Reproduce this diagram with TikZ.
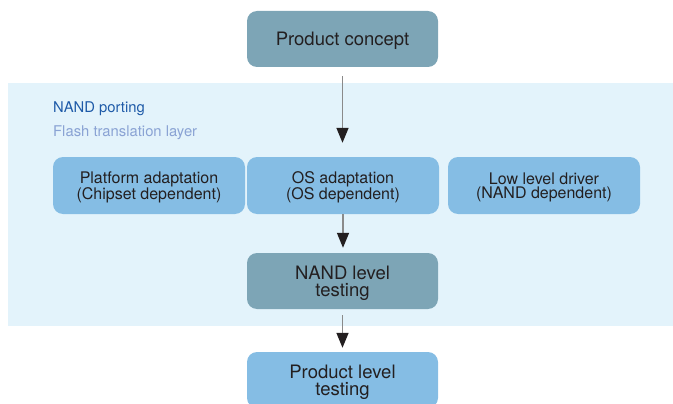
\documentclass[tikz,border=0pt]{standalone}
\usepackage{fontspec}
\setmainfont{TeX Gyre Heros}
\usetikzlibrary{arrows.meta}
\definecolor{bgblue}{HTML}{E3F3FB}
\definecolor{greyblue}{HTML}{7DA5B6}
\definecolor{lightblue}{HTML}{85BDE4}
\definecolor{darklabel}{HTML}{1E5AA8}
\definecolor{palelabel}{HTML}{8AA3D4}
\definecolor{textdark}{HTML}{231F20}
\definecolor{shaft}{HTML}{8A8A8A}
\tikzset{
  box/.style={rounded corners=10pt, inner sep=0pt, align=center, text=textdark,
    text depth=0pt},
  bigbox/.style={box, minimum width=191pt, minimum height=56pt,
    font=\fontsize{18.5}{17}\selectfont},
  smallbox/.style={box, fill=lightblue, minimum width=192pt, minimum height=57pt,
    font=\fontsize{16}{14.5}\selectfont},
  label/.style={anchor=base west, inner sep=0pt, font=\fontsize{14.8}{16}\selectfont},
  flow/.style={draw=shaft, line width=1.5pt,
    -{Triangle[length=15pt,width=12pt,color=textdark,fill=textdark]}}
}
\begin{document}
\begin{tikzpicture}[x=1pt,y=-1pt]
\useasboundingbox (0,0) rectangle (673,404);
\clip (0,0) rectangle (673,404);
\fill[bgblue] (8,83) rectangle (673,326);
\node[label, text=darklabel] (nandport) at (53,113) {NAND porting};
\node[label, text=palelabel] (ftl) at (53,137) {Flash translation layer};
\node[bigbox, fill=greyblue] (pc) at (342.5,39) {Product concept};
\node[smallbox] (plat) at (149,185.5) {Platform adaptation\\(Chipset dependent)};
\node[smallbox] (os) at (343,185.5) {OS adaptation\\(OS dependent)};
\node[smallbox] (low) at (544,185.5) {Low level driver\\(NAND dependent)};
\node[bigbox, fill=greyblue] (nand) at (342.5,281) {NAND level\\testing};
\node[bigbox, fill=lightblue] (plt) at (342.5,380) {Product level\\testing};
\draw[flow, shorten <=9pt, shorten >=14pt] (pc.south) -- (pc.south |- os.north);
\draw[flow, shorten >=5pt] (os.south) -- (os.south |- nand.north);
\draw[flow, shorten <=6pt, shorten >=4pt] (nand.south) -- (plt.north);
\end{tikzpicture}
\end{document}
